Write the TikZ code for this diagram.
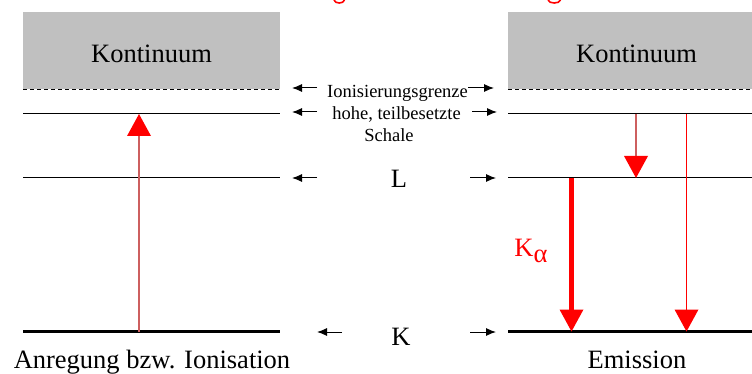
\documentclass[tikz,border=0pt]{standalone}
\usepackage{fontspec}
\setmainfont{Liberation Serif}
\usetikzlibrary{arrows.meta}
\definecolor{contgrey}{RGB}{192,192,192}
\definecolor{shaft}{RGB}{205,95,95}
\tikzset{
  bigtext/.style={font=\rmfamily\fontsize{26.5}{30}\selectfont, inner sep=0pt, anchor=base},
  smalltext/.style={font=\rmfamily\fontsize{18.5}{21}\selectfont, inner sep=0pt, anchor=base},
  level/.style={line width=1pt},
  klevel/.style={line width=3pt},
  ionlevel/.style={line width=1pt, dash pattern=on 4pt off 3pt},
  pointer/.style={-{Latex[length=10pt,width=8pt]}, line width=1pt},
  redtip/.style={-{Triangle[length=22pt,width=24pt,line width=0pt,color=red,fill=red]}},
}
\begin{document}
\begin{tikzpicture}[x=1pt,y=-1pt]
\useasboundingbox (0,0) rectangle (752,374);

% title fragments (cut off at top)
\draw[red, line width=1.6pt] (334,0) .. controls (335,4) and (343.5,4) .. (344.5,0);
\draw[red, line width=1.6pt] (548,0) .. controls (549,4) and (559.5,4) .. (560.5,0);

% continuum boxes
\fill[contgrey] (23,12) rectangle (280,89.5);
\fill[contgrey] (508,12) rectangle (752,89.5);
\node[bigtext] (kont1) at (151.5,63) {Kontinuum};
\node[bigtext] (kont2) at (636.5,63) {Kontinuum};

% levels
\coordinate (iL1) at (23,89.5);  \coordinate (iL2) at (280,89.5);
\coordinate (iR1) at (508,89.5); \coordinate (iR2) at (752,89.5);
\coordinate (hL1) at (23,114);   \coordinate (hL2) at (280,114);
\coordinate (hR1) at (508,114);  \coordinate (hR2) at (752,114);
\coordinate (lL1) at (23,178);   \coordinate (lL2) at (280,178);
\coordinate (lR1) at (508,178);  \coordinate (lR2) at (752,178);
\coordinate (kL1) at (23,331.5); \coordinate (kL2) at (280,331.5);
\coordinate (kR1) at (508,331.5);\coordinate (kR2) at (752,331.5);
\draw[ionlevel] (iL1) -- (iL2);
\draw[ionlevel] (iR1) -- (iR2);
\draw[level] (hL1) -- (hL2);
\draw[level] (hR1) -- (hR2);
\draw[level] (lL1) -- (lL2);
\draw[level] (lR1) -- (lR2);
\draw[klevel] (kL1) -- (kL2);
\draw[klevel] (kR1) -- (kR2);

% middle labels
\node[smalltext] (ion) at (397.5,97.5) {Ionisierungsgrenze};
\node[smalltext] (hohe) at (396.5,120) {hohe, teilbesetzte};
\node[smalltext] (schale) at (389,141.5) {Schale};
\node[bigtext] (Ltxt) at (399,188) {L};
\node[bigtext] (Ktxt) at (401,345) {K};

% middle pointers
\coordinate (pa1) at (317,88);  \coordinate (pa1t) at (292,88);
\coordinate (pa2) at (468,88);  \coordinate (pa2t) at (494,88);
\coordinate (pb1) at (317,112); \coordinate (pb1t) at (292,112);
\coordinate (pb2) at (472,112); \coordinate (pb2t) at (497,112);
\coordinate (pc1) at (317,178); \coordinate (pc1t) at (292,178);
\coordinate (pc2) at (470,178); \coordinate (pc2t) at (496,178);
\coordinate (pd1) at (342,332); \coordinate (pd1t) at (317,332);
\coordinate (pd2) at (470,332); \coordinate (pd2t) at (496,332);
\draw[pointer] (pa1) -- (pa1t);
\draw[pointer] (pa2) -- (pa2t);
\draw[pointer] (pb1) -- (pb1t);
\draw[pointer] (pb2) -- (pb2t);
\draw[pointer] (pc1) -- (pc1t);
\draw[pointer] (pc2) -- (pc2t);
\draw[pointer] (pd1) -- (pd1t);
\draw[pointer] (pd2) -- (pd2t);

% transitions
\coordinate (exA) at (139,331.5); \coordinate (exB) at (139,114);
\draw[redtip, shaft, line width=1.2pt] (exA) -- (exB);
\coordinate (emA) at (636,114); \coordinate (emB) at (636,178);
\draw[redtip, shaft, line width=1.2pt] (emA) -- (emB);
\coordinate (kbA) at (686.5,114); \coordinate (kbB) at (686.5,331.5);
\draw[redtip, red, line width=1pt] (kbA) -- (kbB);
\coordinate (kaA) at (571.5,178); \coordinate (kaB) at (571.5,331.5);
\draw[redtip, red, line width=5pt] (kaA) -- (kaB);
\node[bigtext, red] (kalpha) at (531,256) {K\raisebox{-6pt}{α}};

% captions
\node[bigtext] (cap1) at (152,368) {Anregung bzw. Ionisation};
\node[bigtext] (cap2) at (637,368) {Emission};
\end{tikzpicture}
\end{document}
